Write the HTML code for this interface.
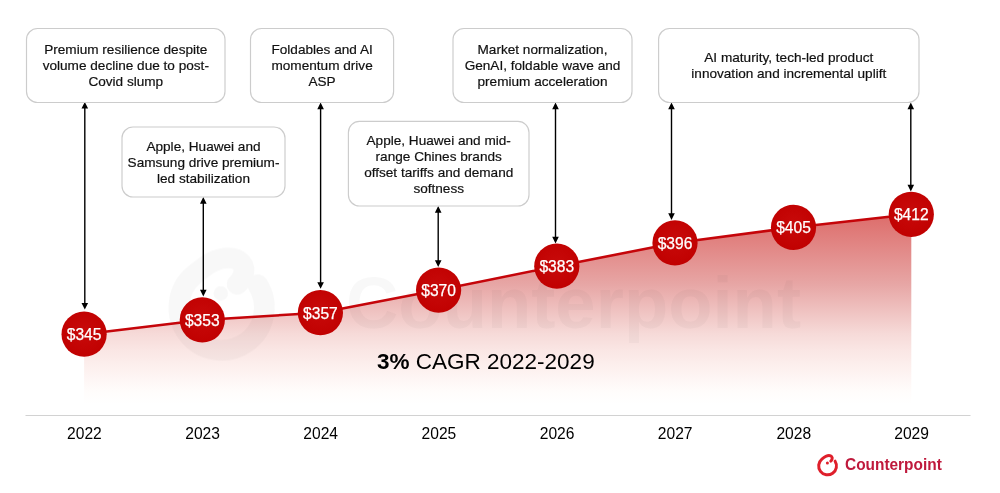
<!DOCTYPE html>
<html lang="en"><head><meta charset="utf-8"><title>Premium smartphone ASP 2022-2029</title>
<style>html,body{margin:0;padding:0;background:#fff}body{width:1000px;height:493px;overflow:hidden}svg{display:block}text{font-family:"Liberation Sans", Arial, sans-serif}</style></head><body>
<svg width="1000" height="493" viewBox="0 0 1000 493">
<defs><linearGradient id="ag" x1="500" y1="214" x2="500" y2="404" gradientUnits="userSpaceOnUse"><stop offset="0" stop-color="#dd6c6a"/><stop offset="0.37" stop-color="#e7a6a5"/><stop offset="0.63" stop-color="#f6dad8"/><stop offset="0.716" stop-color="#fae6e4"/><stop offset="0.816" stop-color="#fdf1ef"/><stop offset="0.93" stop-color="#fffcfb"/><stop offset="1" stop-color="#ffffff"/></linearGradient><radialGradient id="cg" cx="0.5" cy="0.45" r="0.6"><stop offset="0" stop-color="#c80a0a"/><stop offset="1" stop-color="#c00000"/></radialGradient></defs>
<rect width="1000" height="493" fill="#fff"/>
<path d="M84.1,334.2 L202.3,319.9 L320.4,312.7 L438.6,290.1 L556.8,266.2 L675.0,242.9 L793.5,227.4 L911.3,214.3 L911.3,404 L84.1,404 Z" fill="url(#ag)"/>
<g opacity="0.034"><g transform="translate(221.5,303.5) scale(4.8) translate(-827.55,-465.1)"><path d="M835.1,461.2 A8.9,8.9 0 1 1 821.9,459.1 C824.6,456.85 826.5,455.6 829,455.6 C831.4,455.6 832.8,457.2 832,459.3 C831.7,460.1 831.3,460.7 830.8,461.1" fill="none" stroke="#333" stroke-width="4.3" stroke-linecap="round" stroke-linejoin="round"/><circle cx="827.4" cy="463" r="1.5" fill="#333"/></g><text x="346" y="328" font-size="72.5" font-weight="bold" fill="#333">Counterpoint</text></g>
<polyline points="84.1,334.2 202.3,319.9 320.4,312.7 438.6,290.1 556.8,266.2 675.0,242.9 793.5,227.4 911.3,214.3" fill="none" stroke="#c5050a" stroke-width="2.5" stroke-linejoin="round"/>
<line x1="25.5" y1="415.5" x2="970.5" y2="415.5" stroke="#d2d2d2" stroke-width="1.2"/>
<path d="M84.8,106.4 V305.2" stroke="#000" stroke-width="1.4" fill="none"/>
<path d="M84.8,102.0 l-3.3,6.6 h6.6 Z M84.8,309.6 l-3.3,-6.6 h6.6 Z" fill="#000"/>
<path d="M203.3,201.5 V292.0" stroke="#000" stroke-width="1.4" fill="none"/>
<path d="M203.3,197.1 l-3.3,6.6 h6.6 Z M203.3,296.4 l-3.3,-6.6 h6.6 Z" fill="#000"/>
<path d="M320.6,107.0 V284.4" stroke="#000" stroke-width="1.4" fill="none"/>
<path d="M320.6,102.6 l-3.3,6.6 h6.6 Z M320.6,288.8 l-3.3,-6.6 h6.6 Z" fill="#000"/>
<path d="M438.2,210.5 V262.5" stroke="#000" stroke-width="1.4" fill="none"/>
<path d="M438.2,206.1 l-3.3,6.6 h6.6 Z M438.2,266.9 l-3.3,-6.6 h6.6 Z" fill="#000"/>
<path d="M555.5,107.0 V239.0" stroke="#000" stroke-width="1.4" fill="none"/>
<path d="M555.5,102.6 l-3.3,6.6 h6.6 Z M555.5,243.4 l-3.3,-6.6 h6.6 Z" fill="#000"/>
<path d="M671.5,107.0 V215.5" stroke="#000" stroke-width="1.4" fill="none"/>
<path d="M671.5,102.6 l-3.3,6.6 h6.6 Z M671.5,219.9 l-3.3,-6.6 h6.6 Z" fill="#000"/>
<path d="M910.8,107.0 V187.0" stroke="#000" stroke-width="1.4" fill="none"/>
<path d="M910.8,102.6 l-3.3,6.6 h6.6 Z M910.8,191.4 l-3.3,-6.6 h6.6 Z" fill="#000"/>
<rect x="26.5" y="28.5" width="198.5" height="74.0" rx="11" ry="11" fill="#fff" stroke="#cccccc" stroke-width="1.15"/>
<text x="125.8" y="54.0" font-size="13.6" text-anchor="middle" fill="#111" stroke="#111" stroke-width="0.2">Premium resilience despite</text>
<text x="125.8" y="70.2" font-size="13.6" text-anchor="middle" fill="#111" stroke="#111" stroke-width="0.2">volume decline due to post-</text>
<text x="125.8" y="86.4" font-size="13.6" text-anchor="middle" fill="#111" stroke="#111" stroke-width="0.2">Covid slump</text>
<rect x="122.0" y="127.0" width="163.0" height="70.0" rx="11" ry="11" fill="#fff" stroke="#cccccc" stroke-width="1.15"/>
<text x="203.5" y="150.5" font-size="13.6" text-anchor="middle" fill="#111" stroke="#111" stroke-width="0.2">Apple, Huawei and</text>
<text x="203.5" y="166.7" font-size="13.6" text-anchor="middle" fill="#111" stroke="#111" stroke-width="0.2">Samsung drive premium-</text>
<text x="203.5" y="182.9" font-size="13.6" text-anchor="middle" fill="#111" stroke="#111" stroke-width="0.2">led stabilization</text>
<rect x="250.5" y="28.5" width="143.1" height="74.0" rx="11" ry="11" fill="#fff" stroke="#cccccc" stroke-width="1.15"/>
<text x="322.1" y="54.0" font-size="13.6" text-anchor="middle" fill="#111" stroke="#111" stroke-width="0.2">Foldables and AI</text>
<text x="322.1" y="70.2" font-size="13.6" text-anchor="middle" fill="#111" stroke="#111" stroke-width="0.2">momentum drive</text>
<text x="322.1" y="86.4" font-size="13.6" text-anchor="middle" fill="#111" stroke="#111" stroke-width="0.2">ASP</text>
<rect x="348.4" y="121.4" width="180.6" height="84.6" rx="11" ry="11" fill="#fff" stroke="#cccccc" stroke-width="1.15"/>
<text x="438.7" y="144.5" font-size="13.6" text-anchor="middle" fill="#111" stroke="#111" stroke-width="0.2">Apple, Huawei and mid-</text>
<text x="438.7" y="160.7" font-size="13.6" text-anchor="middle" fill="#111" stroke="#111" stroke-width="0.2">range Chines brands</text>
<text x="438.7" y="176.9" font-size="13.6" text-anchor="middle" fill="#111" stroke="#111" stroke-width="0.2">offset tariffs and demand</text>
<text x="438.7" y="193.1" font-size="13.6" text-anchor="middle" fill="#111" stroke="#111" stroke-width="0.2">softness</text>
<rect x="453.0" y="28.5" width="179.0" height="74.0" rx="11" ry="11" fill="#fff" stroke="#cccccc" stroke-width="1.15"/>
<text x="542.5" y="54.0" font-size="13.6" text-anchor="middle" fill="#111" stroke="#111" stroke-width="0.2">Market normalization,</text>
<text x="542.5" y="70.2" font-size="13.6" text-anchor="middle" fill="#111" stroke="#111" stroke-width="0.2">GenAI, foldable wave and</text>
<text x="542.5" y="86.4" font-size="13.6" text-anchor="middle" fill="#111" stroke="#111" stroke-width="0.2">premium acceleration</text>
<rect x="658.6" y="28.5" width="260.4" height="74.0" rx="11" ry="11" fill="#fff" stroke="#cccccc" stroke-width="1.15"/>
<text x="788.8" y="62.0" font-size="13.6" text-anchor="middle" fill="#111" stroke="#111" stroke-width="0.2">AI maturity, tech-led product</text>
<text x="788.8" y="78.2" font-size="13.6" text-anchor="middle" fill="#111" stroke="#111" stroke-width="0.2">innovation and incremental uplift</text>
<circle cx="84.1" cy="334.2" r="22.6" fill="url(#cg)"/>
<text x="84.1" y="340.2" font-size="15.6" text-anchor="middle" fill="#fff" stroke="#fff" stroke-width="0.25">$345</text>
<circle cx="202.3" cy="319.9" r="22.6" fill="url(#cg)"/>
<text x="202.3" y="325.9" font-size="15.6" text-anchor="middle" fill="#fff" stroke="#fff" stroke-width="0.25">$353</text>
<circle cx="320.4" cy="312.7" r="22.6" fill="url(#cg)"/>
<text x="320.4" y="318.7" font-size="15.6" text-anchor="middle" fill="#fff" stroke="#fff" stroke-width="0.25">$357</text>
<circle cx="438.6" cy="290.1" r="22.6" fill="url(#cg)"/>
<text x="438.6" y="296.1" font-size="15.6" text-anchor="middle" fill="#fff" stroke="#fff" stroke-width="0.25">$370</text>
<circle cx="556.8" cy="266.2" r="22.6" fill="url(#cg)"/>
<text x="556.8" y="272.2" font-size="15.6" text-anchor="middle" fill="#fff" stroke="#fff" stroke-width="0.25">$383</text>
<circle cx="675.0" cy="242.9" r="22.6" fill="url(#cg)"/>
<text x="675.0" y="248.9" font-size="15.6" text-anchor="middle" fill="#fff" stroke="#fff" stroke-width="0.25">$396</text>
<circle cx="793.5" cy="227.4" r="22.6" fill="url(#cg)"/>
<text x="793.5" y="233.4" font-size="15.6" text-anchor="middle" fill="#fff" stroke="#fff" stroke-width="0.25">$405</text>
<circle cx="911.3" cy="214.3" r="22.6" fill="url(#cg)"/>
<text x="911.3" y="220.3" font-size="15.6" text-anchor="middle" fill="#fff" stroke="#fff" stroke-width="0.25">$412</text>
<text x="84.4" y="439.3" font-size="15.6" text-anchor="middle" fill="#000">2022</text>
<text x="202.6" y="439.3" font-size="15.6" text-anchor="middle" fill="#000">2023</text>
<text x="320.7" y="439.3" font-size="15.6" text-anchor="middle" fill="#000">2024</text>
<text x="438.9" y="439.3" font-size="15.6" text-anchor="middle" fill="#000">2025</text>
<text x="557.1" y="439.3" font-size="15.6" text-anchor="middle" fill="#000">2026</text>
<text x="675.2" y="439.3" font-size="15.6" text-anchor="middle" fill="#000">2027</text>
<text x="793.8" y="439.3" font-size="15.6" text-anchor="middle" fill="#000">2028</text>
<text x="911.6" y="439.3" font-size="15.6" text-anchor="middle" fill="#000">2029</text>
<text x="377" y="368.8" font-size="22.5" fill="#000"><tspan font-weight="bold">3%</tspan> CAGR 2022-2029</text>
<path d="M835.1,461.2 A8.9,8.9 0 1 1 821.9,459.1 C824.6,456.85 826.5,455.6 829,455.6 C831.4,455.6 832.8,457.2 832,459.3 C831.7,460.1 831.3,460.7 830.8,461.1" fill="none" stroke="#df1f2b" stroke-width="3" stroke-linecap="round" stroke-linejoin="round"/><circle cx="827.4" cy="463" r="1.5" fill="#df1f2b"/>
<text transform="translate(845,470.2) scale(0.935,1)" font-size="16.5" font-weight="bold" fill="#bf193c">Counterpoint</text>
</svg></body></html>
